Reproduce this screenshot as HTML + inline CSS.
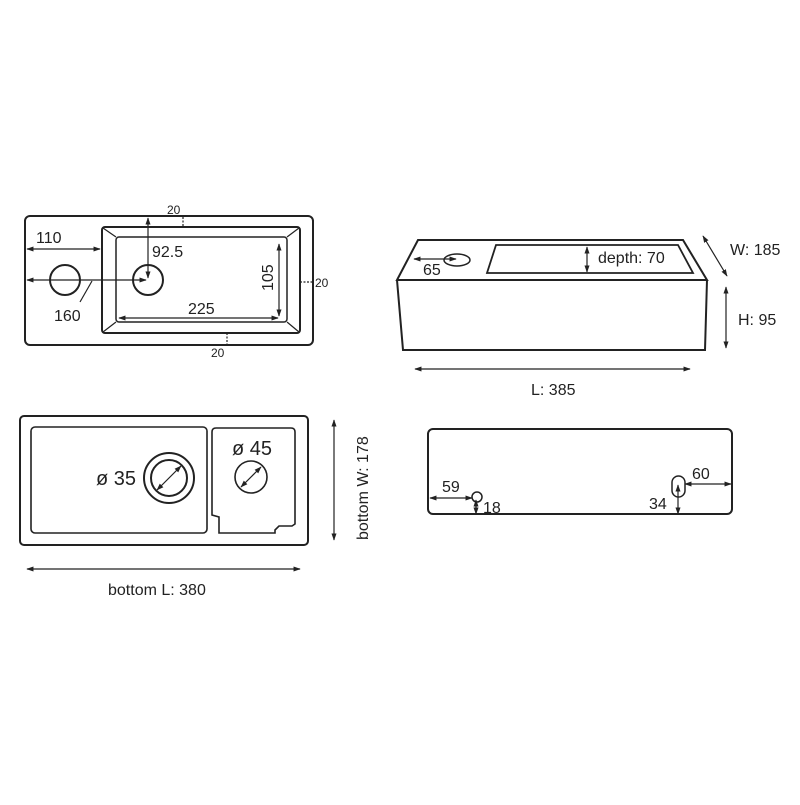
<!DOCTYPE html>
<html><head><meta charset="utf-8"><style>html,body{margin:0;padding:0;background:#fff}</style></head><body>
<svg width="800" height="800" viewBox="0 0 800 800" xmlns="http://www.w3.org/2000/svg" font-family="Liberation Sans, sans-serif" font-size="16" fill="#222">
<defs>
<marker id="a" viewBox="0 0 10 10" refX="9" refY="5" markerWidth="6" markerHeight="6" orient="auto-start-reverse"><path d="M0,1.5 L10,5 L0,8.5 z" fill="#222"/></marker>
</defs>
<g fill="none" stroke="#222" stroke-width="2">
<rect x="25" y="216" width="288" height="129" rx="5"/>
<rect x="102" y="227" width="198" height="106" rx="3"/>
<rect x="116" y="237" width="171" height="85" rx="3" stroke-width="1.5"/>
<g stroke-width="1.2"><line x1="103" y1="228" x2="116" y2="237"/><line x1="299" y1="228" x2="287" y2="237"/><line x1="103" y1="332" x2="116" y2="322"/><line x1="299" y1="332" x2="287" y2="322"/></g>
<circle cx="65" cy="280" r="15"/>
<circle cx="148" cy="280" r="15"/>
</g>
<g stroke="#222" stroke-width="1.2" fill="none">
<line x1="27" y1="249" x2="100" y2="249" marker-start="url(#a)" marker-end="url(#a)"/>
<line x1="27" y1="280" x2="146" y2="280" marker-start="url(#a)" marker-end="url(#a)"/>
<line x1="92" y1="281" x2="80" y2="302"/>
<line x1="148" y1="218" x2="148" y2="278" marker-start="url(#a)" marker-end="url(#a)"/>
<line x1="119" y1="318" x2="278" y2="318" marker-start="url(#a)" marker-end="url(#a)"/>
<line x1="279" y1="244" x2="279" y2="316" marker-start="url(#a)" marker-end="url(#a)"/>
<line x1="183" y1="217" x2="183" y2="227" stroke-dasharray="2,1.5"/>
<line x1="300" y1="282" x2="313" y2="282" stroke-dasharray="2,1.5"/>
<line x1="227" y1="333" x2="227" y2="346" stroke-dasharray="2,1.5"/>
</g>
<text x="36" y="243">110</text>
<text x="54" y="321">160</text>
<text x="152" y="257">92.5</text>
<text x="188" y="314">225</text>
<text transform="translate(273,291) rotate(-90)">105</text>
<text x="167" y="214" font-size="12">20</text>
<text x="315" y="287" font-size="12">20</text>
<text x="211" y="357" font-size="12">20</text>

<g fill="none" stroke="#222" stroke-width="2">
<path d="M418,240 H683 L707,280 H397 Z"/>
<path d="M397,280 L403,350 H705 L707,280"/>
<path d="M496,245 H678 L693,273 H487 Z" stroke-width="1.8"/>
<ellipse cx="457" cy="260" rx="13" ry="6" stroke-width="1.5"/>
</g>
<g stroke="#222" stroke-width="1.2">
<line x1="414" y1="259" x2="456" y2="259" marker-start="url(#a)" marker-end="url(#a)"/>
<line x1="587" y1="247" x2="587" y2="272" marker-start="url(#a)" marker-end="url(#a)"/>
<line x1="703" y1="236" x2="727" y2="276" marker-start="url(#a)" marker-end="url(#a)"/>
<line x1="726" y1="287" x2="726" y2="348" marker-start="url(#a)" marker-end="url(#a)"/>
<line x1="415" y1="369" x2="690" y2="369" marker-start="url(#a)" marker-end="url(#a)"/>
</g>
<text x="423" y="275">65</text>
<text x="598" y="263">depth: 70</text>
<text x="730" y="255">W: 185</text>
<text x="738" y="325">H: 95</text>
<text x="531" y="395">L: 385</text>

<g fill="none" stroke="#222" stroke-width="2">
<rect x="20" y="416" width="288" height="129" rx="4"/>
<rect x="31" y="427" width="176" height="106" rx="4" stroke-width="1.6"/>
<path d="M216,428 H291 Q295,428 295,432 V524 L292,526 H279 L275,530 V533 H219 V517 L212,515 V432 Q212,428 216,428 Z" stroke-width="1.6"/>
<circle cx="169" cy="478" r="25"/>
<circle cx="169" cy="478" r="18"/>
<circle cx="251" cy="477" r="16" stroke-width="1.6"/>
</g>
<g stroke="#222" stroke-width="1.2">
<line x1="157" y1="490" x2="181" y2="466" marker-start="url(#a)" marker-end="url(#a)"/>
<line x1="241" y1="487" x2="261" y2="467" marker-start="url(#a)" marker-end="url(#a)"/>
<line x1="334" y1="420" x2="334" y2="540" marker-start="url(#a)" marker-end="url(#a)"/>
<line x1="27" y1="569" x2="300" y2="569" marker-start="url(#a)" marker-end="url(#a)"/>
</g>
<text x="96" y="485" font-size="20">ø 35</text>
<text x="232" y="455" font-size="20">ø 45</text>
<text transform="translate(368,540) rotate(-90)" font-size="16">bottom W: 178</text>
<text x="108" y="595" font-size="16">bottom L: 380</text>

<g fill="none" stroke="#222" stroke-width="2">
<rect x="428" y="429" width="304" height="85" rx="5"/>
<circle cx="477" cy="497" r="5" stroke-width="1.5"/>
<rect x="672" y="476" width="13" height="21" rx="6.5" stroke-width="1.5"/>
</g>
<g stroke="#222" stroke-width="1.2">
<line x1="430" y1="498" x2="472" y2="498" marker-start="url(#a)" marker-end="url(#a)"/>
<line x1="476" y1="500" x2="476" y2="514" marker-start="url(#a)" marker-end="url(#a)"/>
<line x1="685" y1="484" x2="731" y2="484" marker-start="url(#a)" marker-end="url(#a)"/>
<line x1="678" y1="485" x2="678" y2="514" marker-start="url(#a)" marker-end="url(#a)"/>
</g>
<text x="442" y="492">59</text>
<text x="483" y="513">18</text>
<text x="692" y="479">60</text>
<text x="649" y="509">34</text>
</svg>
</body></html>
